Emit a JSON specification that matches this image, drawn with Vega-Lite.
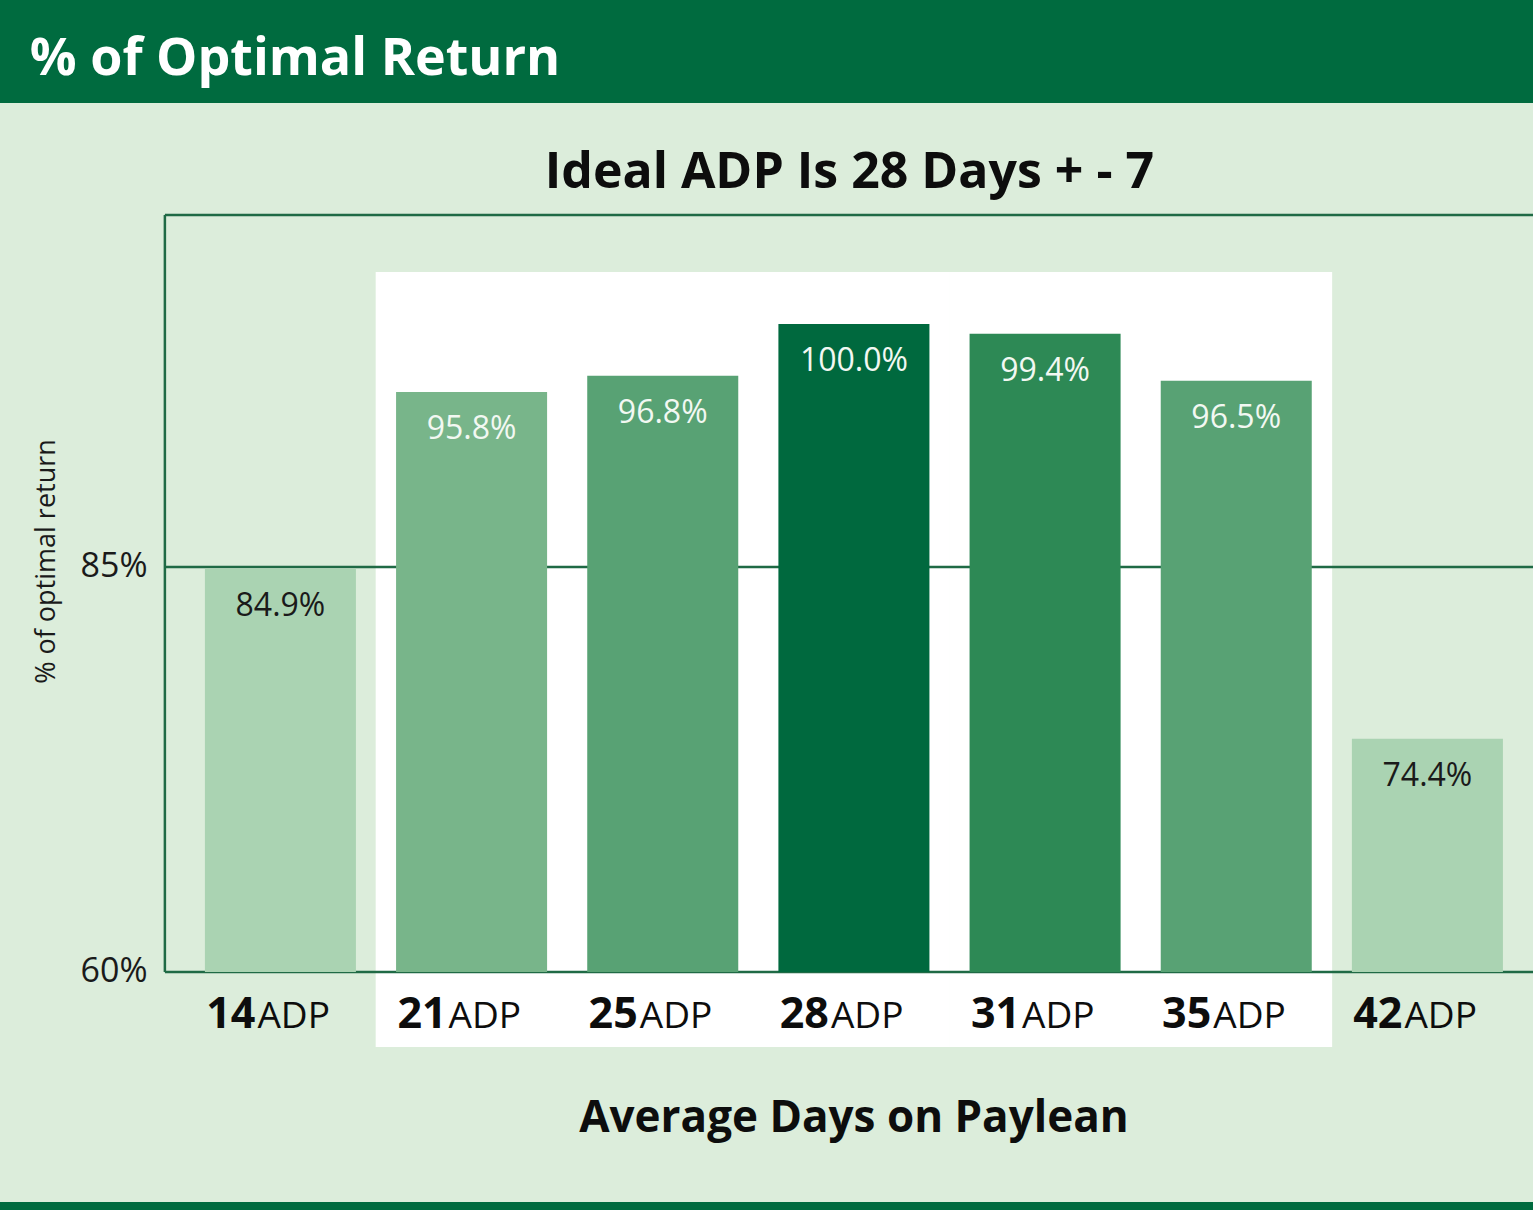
{
  "$schema": "https://vega.github.io/schema/vega-lite/v6.json",
  "width": 1533,
  "height": 1210,
  "autosize": {"type": "none"},
  "padding": 0,
  "background": "#DCEDDB",
  "config": {
    "view": {"stroke": null},
    "font": "Open Sans",
    "axisY": {"labelFontSize": 34, "labelPadding": 18, "labelColor": "#1A1A1A", "titleFontSize": 27, "titleFontWeight": "normal", "titleColor": "#1A1A1A"}
  },
  "data": {
    "values": [
      {"adp": "14", "value": 0.849},
      {"adp": "21", "value": 0.958},
      {"adp": "25", "value": 0.968},
      {"adp": "28", "value": 1.0},
      {"adp": "31", "value": 0.994},
      {"adp": "35", "value": 0.965},
      {"adp": "42", "value": 0.744}
    ]
  },
  "layer": [
    {
      "mark": {"type": "bar", "opacity": 0},
      "encoding": {
        "x": {"field": "adp", "type": "nominal", "scale": {"domain": ["14", "21", "25", "28", "31", "35", "42"], "paddingInner": 0.21, "paddingOuter": 0.6146, "align": 0.872}, "axis": null},
        "y": {
          "field": "value", "type": "quantitative",
          "scale": {"domain": [0.453, 1.2], "zero": false, "nice": false},
          "axis": {
            "values": [0.6, 0.85], "format": ".0%", "offset": -165,
            "domain": false, "ticks": false, "grid": false,
            "labelFontSize": 34, "labelPadding": 18, "labelColor": "#1A1A1A", "labelBaseline": "middle",
            "title": "% of optimal return", "titleFontSize": 27, "titleFontWeight": "normal", "titleColor": "#1A1A1A",
            "titleAngle": -90, "titleX": -111, "titleY": 561, "titleAlign": "center", "titleBaseline": "alphabetic"
          }
        },
        "y2": {"datum": 0.6}
      }
    },
    {
      "data": {"values": [{}]},
      "mark": {"type": "rect", "color": "#006B3F"},
      "encoding": {
        "y": {"datum": 1.2, "type": "quantitative", "scale": {"domain": [0.453, 1.2], "zero": false, "nice": false}},
        "y2": {"datum": 1.1364}
      }
    },
    {
      "data": {"values": [{}]},
      "mark": {"type": "rect", "color": "#006B3F"},
      "encoding": {
        "y": {"datum": 0.4579, "type": "quantitative", "scale": {"domain": [0.453, 1.2], "zero": false, "nice": false}},
        "y2": {"datum": 0.44}
      }
    },
    {
      "transform": [{"filter": {"field": "adp", "oneOf": ["21", "25", "28", "31", "35"]}}],
      "mark": {"type": "rect", "color": "#FFFFFF", "width": {"band": 1.27}},
      "encoding": {
        "x": {"field": "adp", "type": "nominal", "scale": {"domain": ["14", "21", "25", "28", "31", "35", "42"], "paddingInner": 0.21, "paddingOuter": 0.6146, "align": 0.872}, "axis": null},
        "y": {"datum": 1.0321, "type": "quantitative", "scale": {"domain": [0.453, 1.2], "zero": false, "nice": false}},
        "y2": {"datum": 0.5536}
      }
    },
    {
      "data": {"values": [{"line": "top", "level": 1.0673}, {"line": "grid", "level": 0.85}, {"line": "base", "level": 0.6}]},
      "mark": {"type": "rule", "color": "#1F6A45", "strokeWidth": 2.5},
      "encoding": {
        "x": {"datum": "14", "type": "nominal", "bandPosition": -0.265, "scale": {"domain": ["14", "21", "25", "28", "31", "35", "42"], "paddingInner": 0.21, "paddingOuter": 0.6146, "align": 0.872}, "axis": null},
        "x2": {"datum": "42", "bandPosition": 1.25},
        "y": {"field": "level", "type": "quantitative", "scale": {"domain": [0.453, 1.2], "zero": false, "nice": false}}
      }
    },
    {
      "data": {"values": [{}]},
      "mark": {"type": "rule", "color": "#1F6A45", "strokeWidth": 2.5},
      "encoding": {
        "x": {"datum": "14", "type": "nominal", "bandPosition": -0.265, "scale": {"domain": ["14", "21", "25", "28", "31", "35", "42"], "paddingInner": 0.21, "paddingOuter": 0.6146, "align": 0.872}, "axis": null},
        "y": {"datum": 0.6, "type": "quantitative", "scale": {"domain": [0.453, 1.2], "zero": false, "nice": false}},
        "y2": {"datum": 1.0673}
      }
    },
    {
      "mark": {"type": "bar"},
      "encoding": {
        "x": {"field": "adp", "type": "nominal", "scale": {"domain": ["14", "21", "25", "28", "31", "35", "42"], "paddingInner": 0.21, "paddingOuter": 0.6146, "align": 0.872}, "axis": null},
        "y": {"field": "value", "type": "quantitative", "scale": {"domain": [0.453, 1.2], "zero": false, "nice": false}},
        "y2": {"datum": 0.6},
        "color": {
          "field": "adp", "type": "nominal",
          "scale": {"domain": ["14", "21", "25", "28", "31", "35", "42"], "range": ["#AAD3B2", "#78B58A", "#58A274", "#00693E", "#2D8955", "#58A274", "#AAD3B2"]},
          "legend": null
        }
      }
    },
    {
      "mark": {"type": "text", "baseline": "alphabetic", "align": "center", "dy": 47, "fontSize": 32},
      "encoding": {
        "x": {"field": "adp", "type": "nominal", "scale": {"domain": ["14", "21", "25", "28", "31", "35", "42"], "paddingInner": 0.21, "paddingOuter": 0.6146, "align": 0.872}, "axis": null},
        "y": {"field": "value", "type": "quantitative", "scale": {"domain": [0.453, 1.2], "zero": false, "nice": false}},
        "text": {"field": "value", "type": "quantitative", "format": ".1%"},
        "color": {"condition": {"test": "datum.value < 0.9", "value": "#1A1A1A"}, "value": "#F2F8F2"}
      }
    },
    {
      "mark": {"type": "text", "baseline": "alphabetic", "align": "right", "dx": -25, "fontSize": 43, "fontWeight": "bold", "color": "#0D0D0D"},
      "encoding": {
        "x": {"field": "adp", "type": "nominal", "scale": {"domain": ["14", "21", "25", "28", "31", "35", "42"], "paddingInner": 0.21, "paddingOuter": 0.6146, "align": 0.872}, "axis": null},
        "y": {"datum": 0.5654, "type": "quantitative", "scale": {"domain": [0.453, 1.2], "zero": false, "nice": false}},
        "text": {"field": "adp", "type": "nominal"}
      }
    },
    {
      "mark": {"type": "text", "baseline": "alphabetic", "align": "left", "dx": -23, "fontSize": 37, "color": "#0D0D0D"},
      "encoding": {
        "x": {"field": "adp", "type": "nominal", "scale": {"domain": ["14", "21", "25", "28", "31", "35", "42"], "paddingInner": 0.21, "paddingOuter": 0.6146, "align": 0.872}, "axis": null},
        "y": {"datum": 0.5654, "type": "quantitative", "scale": {"domain": [0.453, 1.2], "zero": false, "nice": false}},
        "text": {"value": "ADP"}
      }
    },
    {
      "data": {"values": [{"label": "% of Optimal Return"}]},
      "mark": {"type": "text", "baseline": "alphabetic", "align": "left", "fontSize": 52, "fontWeight": "bold", "color": "#FFFFFF"},
      "encoding": {
        "x": {"datum": "14", "type": "nominal", "bandPosition": -1.159, "scale": {"domain": ["14", "21", "25", "28", "31", "35", "42"], "paddingInner": 0.21, "paddingOuter": 0.6146, "align": 0.872}, "axis": null},
        "y": {"datum": 1.1537, "type": "quantitative", "scale": {"domain": [0.453, 1.2], "zero": false, "nice": false}},
        "text": {"field": "label", "type": "nominal"}
      }
    },
    {
      "data": {"values": [{"label": "Ideal ADP Is 28 Days + - 7"}]},
      "mark": {"type": "text", "baseline": "alphabetic", "align": "center", "fontSize": 50, "fontWeight": "bold", "color": "#0D0D0D"},
      "encoding": {
        "x": {"datum": "28", "type": "nominal", "bandPosition": 0.47, "scale": {"domain": ["14", "21", "25", "28", "31", "35", "42"], "paddingInner": 0.21, "paddingOuter": 0.6146, "align": 0.872}, "axis": null},
        "y": {"datum": 1.0839, "type": "quantitative", "scale": {"domain": [0.453, 1.2], "zero": false, "nice": false}},
        "text": {"field": "label", "type": "nominal"}
      }
    },
    {
      "data": {"values": [{"label": "Average Days on Paylean"}]},
      "mark": {"type": "text", "baseline": "alphabetic", "align": "center", "fontSize": 44, "fontWeight": "bold", "color": "#0D0D0D"},
      "encoding": {
        "x": {"datum": "28", "type": "nominal", "bandPosition": 0.5, "scale": {"domain": ["14", "21", "25", "28", "31", "35", "42"], "paddingInner": 0.21, "paddingOuter": 0.6146, "align": 0.872}, "axis": null},
        "y": {"datum": 0.5012, "type": "quantitative", "scale": {"domain": [0.453, 1.2], "zero": false, "nice": false}},
        "text": {"field": "label", "type": "nominal"}
      }
    }
  ]
}
